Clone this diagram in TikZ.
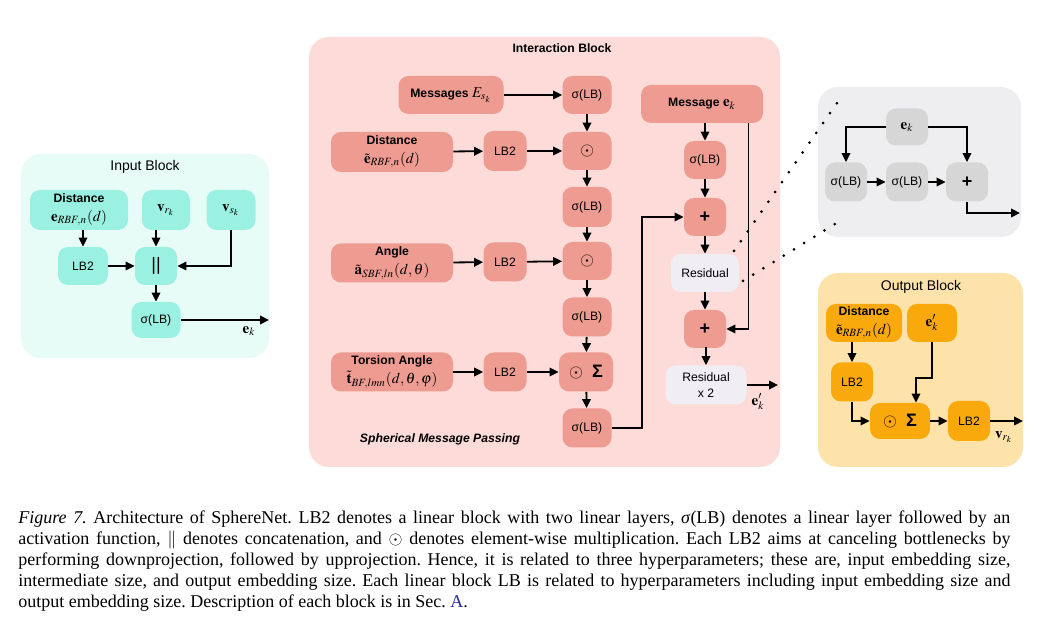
\documentclass[tikz,border=0pt]{standalone}
\usepackage{mathptmx}
\usepackage[no-math]{fontspec}
\setmainfont{Liberation Serif}
\setsansfont{Liberation Sans}
\usetikzlibrary{arrows.meta,calc}
\definecolor{inbg}{HTML}{E8FCF7}
\definecolor{innd}{HTML}{9AF1E1}
\definecolor{intbg}{HTML}{FCDBD8}
\definecolor{intnd}{HTML}{EE9C91}
\definecolor{grbg}{HTML}{EEEEF0}
\definecolor{grnd}{HTML}{D6D6D6}
\definecolor{resnd}{HTML}{F0EEF2}
\definecolor{outbg}{HTML}{FDE2AA}
\definecolor{outnd}{HTML}{FAA90C}
\definecolor{linkblue}{HTML}{23299A}
\newcommand{\mm}[1]{{\fontsize{7.5}{9.5}\selectfont$#1$}}
\newcommand{\bigsym}[1]{{\fontsize{9}{9.5}\selectfont #1}}
\begin{document}
\begin{tikzpicture}[x=0.5pt,y=-0.5pt,
  nd/.style={rounded corners=5pt, inner sep=0pt, align=center, font=\sffamily\fontsize{6.1}{9.5}\selectfont},
  bx/.style 2 args={minimum width=#1*0.5pt, minimum height=#2*0.5pt},
  cy/.style={nd, fill=innd},
  sa/.style={nd, fill=intnd},
  gy/.style={nd, fill=grnd},
  rs/.style={nd, fill=resnd},
  og/.style={nd, fill=outnd},
  blk/.style={rounded corners=10pt},
  ttl/.style={font=\sffamily\fontsize{7}{8}\selectfont, inner sep=0pt},
  arr/.style={line width=0.9pt, -{Triangle[length=4.5pt,width=4.3pt]}},
  dotl/.style={line width=1.5pt, line cap=round, dash pattern=on 0pt off 6pt},
  lbl/.style={font=\fontsize{7.5}{8}\selectfont, inner sep=0pt}
]
\useasboundingbox (0,0) rectangle (1051,624);
\fill[white] (0,0) rectangle (1051,624);

% ---------------- Input block ----------------
\fill[inbg, blk] (21,154) rectangle (269,358);
\node[ttl] (tin) at (145,167) {Input Block};
\node[cy, bx={98}{40}] (idist) at (79,210) {\textbf{Distance}\\\mm{\mathbf{e}_{RBF,n}(d)}};
\node[cy, bx={48}{40}] (ivr) at (166,210) {\mm{\mathbf{v}_{r_k}}};
\node[cy, bx={49}{40}] (ivs) at (231,210) {\mm{\mathbf{v}_{s_k}}};
\node[cy, bx={50}{38}] (ilb) at (83,266) {LB2};
\node[cy, bx={42}{38}] (icat) at (156,266) {\bigsym{||}};
\node[cy, bx={49}{36}] (isig) at (156,320) {σ(LB)};
\coordinate (iout) at (269,320);
\draw[arr] (ilb.north |- idist.south) -- (ilb.north);
\draw[arr] (icat.north |- ivr.south) -- (icat.north);
\draw[arr] (ilb) -- (icat);
\draw[arr] (ivs.south) |- (icat.east);
\draw[arr] (icat) -- (isig);
\draw[arr] (isig) -- (iout);
\node[lbl] (lek) at (249,331) {$\mathbf{e}_k$};

% ---------------- Interaction block ----------------
\fill[intbg, blk] (309,37) rectangle (780,467);
\node[ttl, font=\sffamily\bfseries\fontsize{6.1}{8}\selectfont] (tint) at (562,48) {Interaction Block};
\node[sa, bx={105}{38}] (msg) at (451,95) {\textbf{Messages \mm{E_{s_k}}}};
\node[sa, bx={49}{38}] (s1) at (587,95) {σ(LB)};
\node[sa, bx={122}{40}] (dist) at (392,152) {\textbf{Distance}\\\mm{\tilde{\mathbf{e}}_{RBF,n}(d)}};
\node[sa, bx={43}{40}] (lbd) at (505,151) {LB2};
\node[sa, bx={49}{38}] (o1) at (587,151) {\bigsym{$\odot$}};
\node[sa, bx={49}{40}] (s2) at (587,207) {σ(LB)};
\node[sa, bx={122}{39}] (ang) at (392,263) {\textbf{Angle}\\\mm{\tilde{\mathbf{a}}_{SBF,ln}(d,\theta)}};
\node[sa, bx={43}{39}] (lba) at (505,262) {LB2};
\node[sa, bx={49}{38}] (o2) at (587,261) {\bigsym{$\odot$}};
\node[sa, bx={49}{39}] (s3) at (587,317) {σ(LB)};
\node[sa, bx={122}{39}] (tor) at (392,372) {\textbf{Torsion Angle}\\\mm{\tilde{\mathbf{t}}_{BF,lmn}(d,\theta,\varphi)}};
\node[sa, bx={43}{39}] (lbt) at (505,372) {LB2};
\node[sa, bx={54}{39}] (os) at (586,372) {\bigsym{$\odot$\hspace{0.5em}\textbf{Σ}}};
\node[sa, bx={49}{39}] (s4) at (587,428) {σ(LB)};
\node[ttl, font=\sffamily\bfseries\itshape\fontsize{6.1}{8}\selectfont] (smp) at (440,439) {Spherical Message Passing};

\draw[arr] (msg) -- (s1);
\draw[arr] (s1) -- (o1);
\draw[arr] (dist) -- (lbd);
\draw[arr] (lbd) -- (o1);
\draw[arr] (o1) -- (s2);
\draw[arr] (s2) -- (o2);
\draw[arr] (ang) -- (lba);
\draw[arr] (lba) -- (o2);
\draw[arr] (o2) -- (s3);
\draw[arr] (s3) -- (os);
\draw[arr] (tor) -- (lbt);
\draw[arr] (lbt) -- (os);
\draw[arr] (os) -- (s4);

% right column
\node[sa, bx={122}{38}] (me) at (702,104) {\textbf{Message \mm{\mathbf{e}_k}}};
\node[sa, bx={42}{38}] (s5) at (705,160) {σ(LB)};
\node[sa, bx={42}{38}] (p1) at (705,217) {\bigsym{\textbf{+}}};
\node[rs, bx={68}{38}] (res) at (705,273) {Residual};
\node[sa, bx={42}{38}] (p2) at (705,329) {\bigsym{\textbf{+}}};
\node[rs, bx={81}{39}, font=\sffamily\fontsize{6.1}{7.6}\selectfont] (res2) at (706,385) {Residual\\x 2};
\coordinate (turn) at (642,428);
\coordinate (eout) at (778,385);
\draw[arr] (me.south -| s5.north) -- (s5.north);
\draw[arr] (s5) -- (p1);
\draw[arr] (p1) -- (res);
\draw[arr] (res) -- (p2);
\draw[arr] (p2.south) -- (p2.south -| res2.north) -- (res2.north);
\draw[arr] (s4.east) -- (turn) |- (p1.west);
\draw[arr] ([xshift=-7.5pt]me.south east) |- (p2.east);
\draw[arr] (res2) -- (eout);
\node[lbl] (lekp) at (758,402) {$\mathbf{e}'_k$};

% ---------------- Residual detail block ----------------
\fill[grbg, blk] (818,87) rectangle (1021,237);
\node[gy, bx={42}{37}] (ge) at (907,127) {\mm{\mathbf{e}_k}};
\node[gy, bx={42}{39}] (ga) at (846,182) {σ(LB)};
\node[gy, bx={42}{39}] (gb) at (907,182) {σ(LB)};
\node[gy, bx={42}{39}] (gp) at (967,182) {\bigsym{\textbf{+}}};
\coordinate (gout) at (1020,213);
\draw[arr] (ge.west) -| (ga.north);
\draw[arr] (ge.east) -| (gp.north);
\draw[arr] (ga) -- (gb);
\draw[arr] (gb) -- (gp);
\draw[arr] (gp.south) |- (gout);

% dotted zoom lines
\coordinate (dA1) at (734,251);
\coordinate (dA2) at (837,103);
\coordinate (dB1) at (743,281);
\coordinate (dB2) at (838,222);
\draw[dotl] (dA1) -- (dA2);
\draw[dotl] (dB1) -- (dB2);

% ---------------- Output block ----------------
\fill[outbg, blk] (818,273) rectangle (1023,467);
\node[ttl] (tout) at (921,287) {Output Block};
\node[og, bx={76}{38}] (od) at (864,323) {\textbf{Distance}\\\mm{\tilde{\mathbf{e}}_{RBF,n}(d)}};
\node[og, bx={50}{38}] (oe) at (932,323) {\mm{\mathbf{e}'_k}};
\node[og, bx={42}{39}] (ol) at (852,382) {LB2};
\node[og, bx={60}{36}] (oos) at (900,421) {\bigsym{$\odot$\hspace{0.5em}\textbf{Σ}}};
\node[og, bx={42}{40}] (ol2) at (969,421) {LB2};
\coordinate (vout) at (1023,421);
\draw[arr] (ol.north |- od.south) -- (ol.north);
\draw[arr] (ol.south) |- (oos.west);
\draw[arr] (oe.south) -- (oe.south |- 0,378) -| ([xshift=8pt]oos.north);
\draw[arr] (oos) -- (ol2);
\draw[arr] (ol2) -- (vout);
\node[lbl] (lvr) at (1004,437) {$\mathbf{v}_{r_k}$};

% ---------------- Caption ----------------
\node[anchor=north west, inner sep=0pt, text width=496pt, align=justify,
      font=\rmfamily\fontsize{9}{10.5}\selectfont] (cap) at (18,510)
{\frenchspacing\hyphenpenalty=10000\tolerance=9999\emergencystretch=2em
\textit{Figure 7.} Architecture of SphereNet. LB2 denotes a linear block with two linear layers, \textit{σ}(LB) denotes a linear layer followed by an\linebreak
activation function, $\|$ denotes concatenation, and $\odot$ denotes element-wise multiplication. Each LB2 aims at canceling bottlenecks by\linebreak
performing downprojection, followed by upprojection. Hence, it is related to three hyperparameters; these are, input embedding size,\linebreak
intermediate size, and output embedding size. Each linear block LB is related to hyperparameters including input embedding size and\linebreak
output embedding size. Description of each block is in Sec. \textcolor{linkblue}{A}.};
\end{tikzpicture}
\end{document}
